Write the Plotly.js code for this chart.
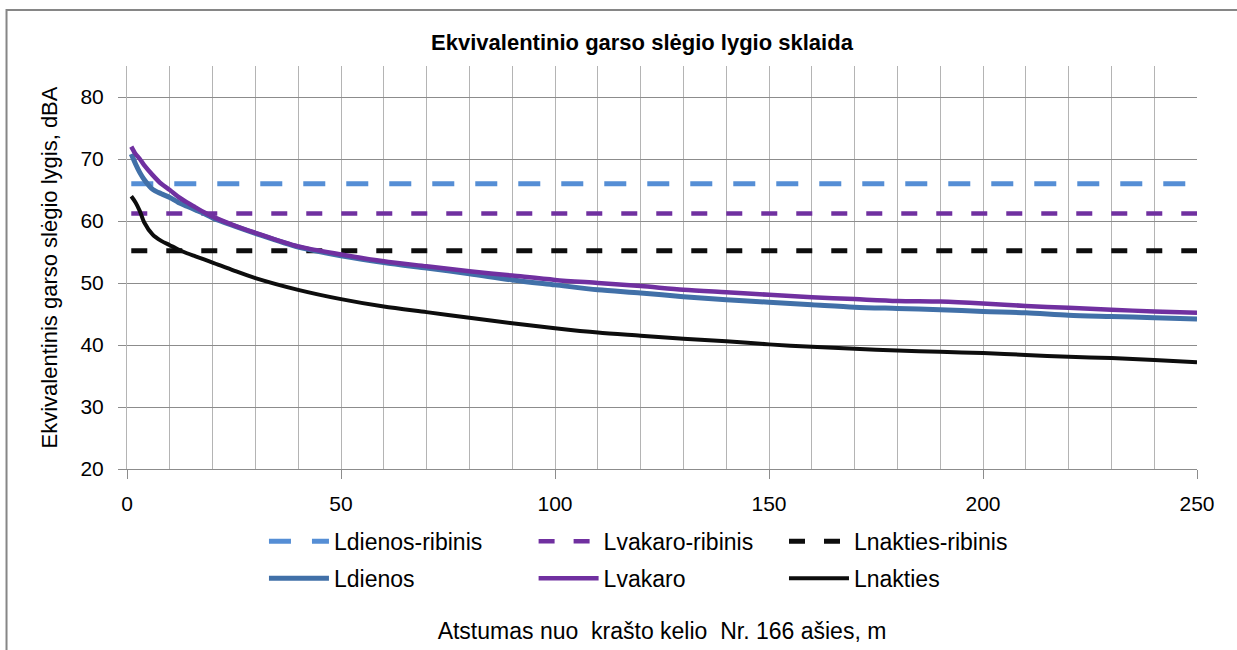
<!DOCTYPE html>
<html>
<head>
<meta charset="utf-8">
<script src="https://cdn.plot.ly/plotly-3.0.1.min.js"></script>
<style>html,body{margin:0;padding:0;background:#fff;}#chart{width:1237px;height:650px;}</style>
</head>
<body>
<div id="chart"></div>
<script>
// Distance from road axis, m
const distances = [1,2,3,4,6,8,10,12,14,16,18,20,25,30,40,50,60,70,80,90,100,110,120,130,140,150,160,170,180,190,200,210,220,230,240,250];
const ldienos = [70.8,69.2,67.8,66.7,65.1,64.4,63.8,63.0,62.4,61.8,61.2,60.5,59.2,58.0,55.8,54.4,53.3,52.4,51.5,50.5,49.7,48.9,48.4,47.8,47.3,46.9,46.5,46.1,45.9,45.7,45.4,45.2,44.8,44.6,44.4,44.2];
const lvakaro = [72.0,70.8,70.0,69.0,67.4,66.0,65.0,63.9,63.0,62.2,61.4,60.7,59.3,58.1,55.9,54.6,53.5,52.7,51.9,51.2,50.5,50.0,49.5,48.9,48.5,48.1,47.7,47.4,47.1,47.0,46.7,46.3,46.0,45.7,45.4,45.2];
const lnakties = [64.0,63.0,61.6,59.8,57.8,56.8,56.1,55.4,54.8,54.3,53.8,53.3,52.0,50.8,48.9,47.4,46.2,45.3,44.4,43.5,42.7,42.0,41.5,41.0,40.6,40.1,39.7,39.4,39.1,38.9,38.7,38.4,38.1,37.9,37.6,37.2];
// Limit values (ribiniai dydžiai)
const limitX = [1, 250];
const ldienosRibinis = [66, 66];
const lvakaroRibinis = [61.2, 61.2];
const lnaktiesRibinis = [55.2, 55.2];
const xTicks = [0, 50, 100, 150, 200, 250];
const yTicks = [20, 30, 40, 50, 60, 70, 80];

const FONT = '"Liberation Sans", Arial, sans-serif';

const traces = [
  {x: limitX, y: ldienosRibinis, name: 'Ldienos-ribinis', mode: 'lines', legend: 'legend', legendgroup: 'a1',
   line: {color: '#558ED5', width: 5, dash: '22px,21px'}},
  {x: limitX, y: lvakaroRibinis, name: 'Lvakaro-ribinis', mode: 'lines', legend: 'legend2', legendgroup: 'b1',
   line: {color: '#7030A0', width: 4.5, dash: '16px,19px'}},
  {x: limitX, y: lnaktiesRibinis, name: 'Lnakties-ribinis', mode: 'lines', legend: 'legend3', legendgroup: 'c1',
   line: {color: '#0D0D0D', width: 5, dash: '16px,19px'}},
  {x: distances, y: ldienos, name: 'Ldienos', mode: 'lines', legend: 'legend', legendgroup: 'a2',
   line: {color: '#4170A8', width: 5, shape: 'spline', smoothing: 0.8}},
  {x: distances, y: lvakaro, name: 'Lvakaro', mode: 'lines', legend: 'legend2', legendgroup: 'b2',
   line: {color: '#7030A0', width: 4.5, shape: 'spline', smoothing: 0.8}},
  {x: distances, y: lnakties, name: 'Lnakties', mode: 'lines', legend: 'legend3', legendgroup: 'c2',
   line: {color: '#0D0D0D', width: 4, shape: 'spline', smoothing: 0.8}}
];

function leg(x) {
  return {x: x, y: -0.126, xanchor: 'left', yanchor: 'top', orientation: 'v',
    font: {family: FONT, size: 23, color: '#000'}, bgcolor: 'rgba(0,0,0,0)',
    tracegroupgap: 4, itemwidth: 60, traceorder: 'grouped'};
}

const layout = {
  width: 1237, height: 650,
  paper_bgcolor: '#fff', plot_bgcolor: '#fff',
  margin: {l: 127, r: 40, t: 66, b: 181},
  font: {family: FONT, color: '#000'},
  title: {text: 'Ekvivalentinio garso slėgio lygio sklaida', font: {family: FONT, size: 22, weight: 'bold', color: '#000'},
    x: 0.519, xanchor: 'center', xref: 'container', y: 0.935, yanchor: 'middle', yref: 'container'},
  xaxis: {
    range: [0, 250], tickvals: xTicks, ticks: 'outside', ticklen: 9, tickcolor: '#8c8c8c',
    showgrid: true, gridcolor: '#b4b4b4', gridwidth: 1,
    minor: {dtick: 10, showgrid: true, gridcolor: '#b4b4b4', gridwidth: 1, ticks: ''},
    zeroline: false, showline: true, linecolor: '#8c8c8c', linewidth: 1,
    tickfont: {family: FONT, size: 21, color: '#000'}, ticklabelstandoff: 7,
    title: {text: 'Atstumas nuo\u00a0 krašto kelio\u00a0 Nr. 166 ašies, m', font: {family: FONT, size: 23, color: '#000'}, standoff: 108},
    fixedrange: true
  },
  yaxis: {
    range: [20, 85], tickvals: yTicks, ticks: 'outside', ticklen: 8, tickcolor: '#8c8c8c',
    showgrid: true, gridcolor: '#8c8c8c', gridwidth: 1,
    zeroline: false, showline: true, linecolor: '#b4b4b4', linewidth: 1,
    tickfont: {family: FONT, size: 21, color: '#000'}, ticklabelstandoff: 10,
    title: {text: 'Ekvivalentinis garso slėgio lygis, dBA', font: {family: FONT, size: 22, color: '#000'}, standoff: 16},
    fixedrange: true
  },
  legend: leg(0.128),
  legend2: leg(0.380),
  legend3: leg(0.614),
  showlegend: true,
  shapes: [
    {type: 'rect', xref: 'paper', yref: 'paper', x0: -0.1126, x1: 1.3, y0: -1.0, y1: 1.1390,
     line: {color: '#868686', width: 2}, fillcolor: 'rgba(0,0,0,0)', layer: 'below'}
  ]
};

Plotly.newPlot('chart', traces, layout, {displayModeBar: false, staticPlot: true});
</script>
</body>
</html>
